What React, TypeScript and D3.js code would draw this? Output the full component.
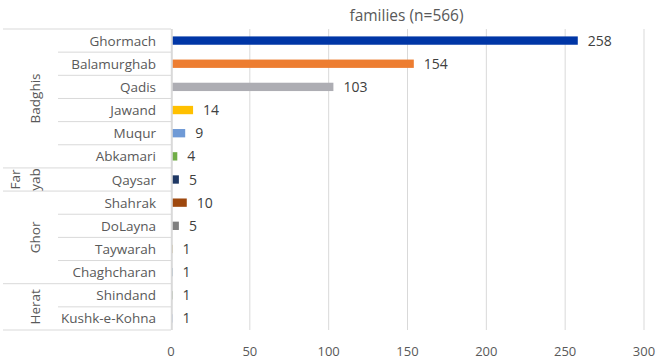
import React from "react";
import * as d3 from "d3";

const districts = ["Ghormach","Balamurghab","Qadis","Jawand","Muqur","Abkamari","Qaysar","Shahrak","DoLayna","Taywarah","Chaghcharan","Shindand","Kushk-e-Kohna"];
const provinces = ["Badghis","Badghis","Badghis","Badghis","Badghis","Badghis","Faryab","Ghor","Ghor","Ghor","Ghor","Herat","Herat"];
const provinceLabels: Record<string, string[]> = { Badghis: ["Badghis"], Faryab: ["Far", "yab"], Ghor: ["Ghor"], Herat: ["Herat"] };
const families = [258,154,103,14,9,4,5,10,5,1,1,1,1];
const barColors = ["#0036A6","#ED7D31","#ADADB3","#FFC000","#6F9AD6","#70AD47","#1F3864","#9E480E","#7F7F7F","#997300","#255E91","#43682B","#698ED0"];
const xTicks = [0,50,100,150,200,250,300];
const title = "families (n=566)";

const W = 657, H = 360;
const left = 171, right = 644, top = 29, bottom = 330;
const FONT = "'Open Sans', sans-serif";

export default function App() {
  const x = d3.scaleLinear().domain([0, 300]).range([left, right]);
  const y = d3.scaleBand<string>().domain(districts).range([top, bottom]).paddingInner(0.64).paddingOuter(0.32);
  const band = d3.scaleBand<string>().domain(districts).range([top, bottom]);

  const groups: { name: string; start: number; end: number }[] = [];
  provinces.forEach((p, i) => {
    const g = groups[groups.length - 1];
    if (g && g.name === p) g.end = i;
    else groups.push({ name: p, start: i, end: i });
  });

  const lineColor = "#D9D9D9";
  return (
    <svg width={W} height={H} style={{ position: "absolute", left: 0, top: 0, background: "#fff" }}>
      <text x={(left + right) / 2 - 1} y={21} textAnchor="middle" fontFamily={FONT} fontSize={15.5} fill="#595959">{title}</text>
      {xTicks.slice(1).map(t => (
        <line key={t} x1={x(t)} x2={x(t)} y1={top} y2={bottom} stroke={lineColor} strokeWidth={1} />
      ))}
      {xTicks.map(t => (
        <text key={"t" + t} x={x(t)} y={356} textAnchor="middle" fontFamily={FONT} fontSize={13} fill="#595959">{t}</text>
      ))}
      <line x1={3} x2={left} y1={top} y2={top} stroke={lineColor} />
      {districts.map((d, i) => {
        if (i === 0) return null;
        const yy = band(d)!;
        const isGroupBoundary = provinces[i] !== provinces[i - 1];
        return <line key={"s" + d} x1={isGroupBoundary ? 3 : 58} x2={left} y1={yy} y2={yy} stroke={lineColor} />;
      })}
      <line x1={3} x2={left} y1={bottom} y2={bottom} stroke={lineColor} />
      {districts.map((d) => (
        <text key={"l" + d} x={156} y={band(d)! + band.bandwidth() / 2 + 5} textAnchor="end" fontFamily={FONT} fontSize={13.5} fill="#595959">{d}</text>
      ))}
      {groups.map(g => {
        const y0 = band(districts[g.start])!;
        const y1 = band(districts[g.end])! + band.bandwidth();
        const cy = (y0 + y1) / 2;
        const lines = provinceLabels[g.name];
        return (
          <text key={"g" + g.name} transform={`translate(0,${cy}) rotate(-90)`} textAnchor="middle" fontFamily={FONT} fontSize={13.5} fill="#595959">
            {lines.map((ln, k) => (
              <tspan key={k} x={0} y={lines.length === 1 ? 40 : 20 + k * 20}>{ln}</tspan>
            ))}
          </text>
        );
      })}
      {districts.map((d, i) => (
        <rect key={"b" + d} x={x(0)} y={y(d)!} width={x(families[i]) - x(0)} height={y.bandwidth()} fill={barColors[i]} />
      ))}
      <line x1={left + 0.8} x2={left + 0.8} y1={top} y2={bottom} stroke={lineColor} strokeWidth={2} />
      {districts.map((d, i) => (
        <text key={"v" + d} x={x(families[i]) + 10} y={band(d)! + band.bandwidth() / 2 + 5} fontFamily={FONT} fontSize={14} fill="#404040">{families[i]}</text>
      ))}
    </svg>
  );
}
